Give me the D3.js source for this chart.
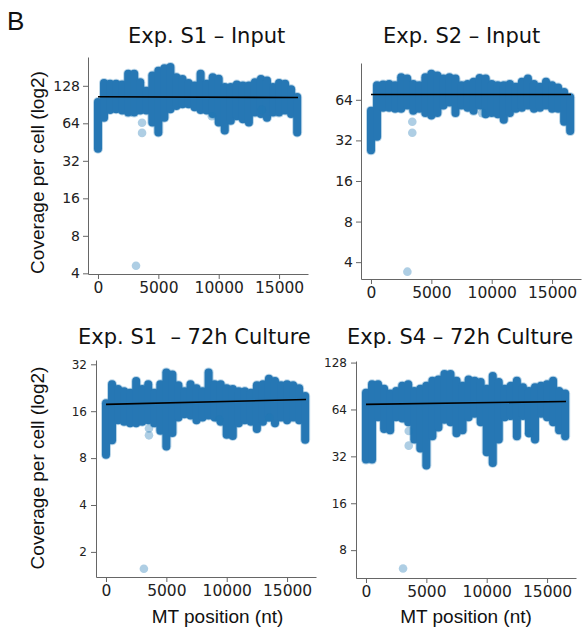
<!DOCTYPE html>
<html>
<head>
<meta charset="utf-8">
<script src="https://cdn.jsdelivr.net/npm/d3@7"></script>
<style>
  body { margin: 0; background: #fff; }
  svg { display: block; }
  .tick text { font-family: "DejaVu Sans", sans-serif; fill: #222; }
  .tick line, .domain { stroke: #666; }
</style>
</head>
<body>
<svg width="582" height="630"></svg>
<script>
// MT positions sampled every 500 nt
var positions = [0, 500, 1000, 1500, 2000, 2500, 3000, 3500, 4000, 4500, 5000, 5500, 6000, 6500, 7000, 7500, 8000,
                 8500, 9000, 9500, 10000, 10500, 11000, 11500, 12000, 12500, 13000, 13500, 14000, 14500, 15000, 15500, 16000, 16500];

// upper / lower edge of the coverage cloud per panel
var s1InputHigh = [95, 135, 133, 133, 131, 160, 160, 137, 117, 155, 169, 177, 181, 150, 145, 135, 129,
                   160, 133, 150, 146, 125, 125, 131, 129, 129, 137, 145, 141, 125, 135, 133, 120, 104];
var s1InputLow  = [40, 71, 82, 83, 81, 78, 78, 81, 81, 65, 54, 71, 83, 88, 91, 91, 86,
                   82, 81, 76, 65, 56, 67, 73, 69, 65, 78, 76, 71, 78, 78, 81, 76, 54];

var s2InputHigh = [53, 82, 83, 84, 82, 94, 92, 84, 82, 94, 100, 97, 92, 94, 92, 82, 84,
                   87, 93, 92, 84, 82, 82, 84, 80, 87, 92, 84, 80, 87, 82, 79, 73, 67];
var s2InputLow  = [27, 34, 56, 56, 55, 55, 58, 53, 55, 51, 49, 51, 58, 61, 51, 58, 56,
                   53, 58, 50, 51, 50, 45.5, 51, 55, 56, 58, 55, 56, 58, 55, 55, 44, 37.5];

var s1CultureHigh = [18, 23.8, 22.2, 21.5, 21, 25, 22.2, 23.8, 21, 23.8, 28.4, 27.5, 23.5, 21.5, 23.8, 22.5, 21.5,
                     28.4, 23.8, 23.8, 22.5, 22.2, 21.5, 21.5, 21, 23.5, 23.8, 25.8, 25, 23.5, 23.8, 23.5, 22.5, 20];
var s1CultureLow  = [8.4, 10.4, 14, 13.7, 13.4, 13.4, 13.7, 14, 13.4, 12, 9.5, 11.6, 14.6, 15.3, 15, 14, 14.6,
                     15, 14.6, 13.7, 11.3, 11.1, 13.4, 14, 13.7, 12.3, 13.7, 14.6, 13.4, 14.6, 14, 14.6, 14, 10.5];

var s4CultureHigh = [82, 93, 93, 87, 81, 84, 91, 93, 84, 87, 91, 98, 99.5, 108, 108, 98, 91,
                     99.5, 98, 96, 87, 105, 96, 87, 91, 98, 89, 84, 89, 91, 93, 98, 84, 81];
var s4CultureLow  = [30.5, 30.5, 57, 48, 47, 57, 56, 53, 41, 36, 28, 43, 49, 55, 53, 45, 47,
                     57, 60, 53, 34, 29, 41, 57, 58, 43, 58, 45, 41, 60, 57, 53, 47, 43];

// isolated (faint) points
var s1InputOutPos = [3650, 3650, 3150, 9430, 13570];
var s1InputOutVal = [64.6, 53.6, 4.6, 73, 82];
var s2InputOutPos = [3420, 3420, 3015, 9210];
var s2InputOutVal = [44, 36.5, 3.4, 51];
var s1CultureOutPos = [3560, 3560, 3140, 9380, 13530];
var s1CultureOutVal = [12.4, 11.2, 1.56, 14.1, 14.5];
var s4CultureOutPos = [3540, 3540, 3070, 13500];
var s4CultureOutVal = [46.6, 37.5, 6.1, 45];

// regression line ends (value at first and last MT position)
var fitPos = [0, 16569];
var s1InputFit = [104.5, 103];
var s2InputFit = [70, 70];
var s1CultureFit = [17.7, 19.0];
var s4CultureFit = [69, 72];

var titles = ["Exp. S1 \u2013 Input", "Exp. S2 \u2013 Input", "Exp. S1  \u2013 72h Culture", "Exp. S4 \u2013 72h Culture"];
var yTicks = [[4, 8, 16, 32, 64, 128], [4, 8, 16, 32, 64], [2, 4, 8, 16, 32], [8, 16, 32, 64, 128]];
var xTicks = [0, 5000, 10000, 15000];

var panels = [
  {hi: s1InputHigh, lo: s1InputLow, oPos: s1InputOutPos, oVal: s1InputOutVal, fit: s1InputFit,
   left: 88, top: 57, bottom: 274, yDom: [3.95, 218], yFont: 14, yPad: 3, titleX: 128, titleY: 43},
  {hi: s2InputHigh, lo: s2InputLow, oPos: s2InputOutPos, oVal: s2InputOutVal, fit: s2InputFit,
   left: 361, top: 63, bottom: 279, yDom: [3.0, 120], yFont: 14, yPad: 3, titleX: 383, titleY: 43},
  {hi: s1CultureHigh, lo: s1CultureLow, oPos: s1CultureOutPos, oVal: s1CultureOutVal, fit: s1CultureFit,
   left: 96, top: 360, bottom: 577, yDom: [1.38, 34.1], yFont: 12, yPad: 4, titleX: 78, titleY: 344},
  {hi: s4CultureHigh, lo: s4CultureLow, oPos: s4CultureOutPos, oVal: s4CultureOutVal, fit: s4CultureFit,
   left: 356, top: 361, bottom: 578, yDom: [5.3, 131], yFont: 12, yPad: 4, titleX: 347, titleY: 344}
];

var svg = d3.select("svg");
var panelWidth = 220;

panels.forEach(function(p, k) {
  var x = d3.scaleLinear()
            .domain([-828, 17397])
            .range([p.left, p.left + panelWidth]);
  var y = d3.scaleLog().base(2)
            .domain(p.yDom)
            .range([p.bottom, p.top]);

  var g = svg.append("g");

  // the cloud of points: one rounded stroke per sampled position
  var cols = positions.map(function(pos, i) { return {pos: pos, hi: p.hi[i], lo: p.lo[i]}; });

  g.selectAll(".halo")
    .data(cols)
    .enter()
    .append("line")
      .attr("x1", d => x(d.pos))
      .attr("x2", d => x(d.pos))
      .attr("y1", d => y(d.hi))
      .attr("y2", d => y(d.lo))
      .attr("stroke", "#1f77b4")
      .attr("stroke-opacity", 0.3)
      .attr("stroke-width", 10)
      .attr("stroke-linecap", "round");

  g.selectAll(".col")
    .data(cols)
    .enter()
    .append("line")
      .attr("x1", d => x(d.pos))
      .attr("x2", d => x(d.pos))
      .attr("y1", d => y(d.hi))
      .attr("y2", d => y(d.lo))
      .attr("stroke", "#2677b4")
      .attr("stroke-width", 8)
      .attr("stroke-linecap", "round");

  g.selectAll(".out")
    .data(p.oPos.map((pos, i) => ({pos: pos, v: p.oVal[i]})))
    .enter()
    .append("circle")
      .attr("cx", d => x(d.pos))
      .attr("cy", d => y(d.v))
      .attr("r", 4.3)
      .attr("fill", "#1f77b4")
      .attr("fill-opacity", 0.36);

  // regression line
  g.append("line")
    .attr("x1", x(fitPos[0]))
    .attr("x2", x(fitPos[1]))
    .attr("y1", y(p.fit[0]))
    .attr("y2", y(p.fit[1]))
    .attr("stroke", "#000")
    .attr("stroke-width", 1.6);

  // axes (left and bottom spines only)
  var yAxis = g.append("g")
    .attr("transform", "translate(" + p.left + ",0)")
    .call(d3.axisLeft(y).tickValues(yTicks[k]).tickFormat(d3.format("d"))
            .tickSize(5).tickSizeOuter(0).tickPadding(p.yPad));
  yAxis.selectAll("text").style("font-size", p.yFont + "px");

  var xAxis = g.append("g")
    .attr("transform", "translate(0," + p.bottom + ")")
    .call(d3.axisBottom(x).tickValues(xTicks).tickFormat(d3.format("d"))
            .tickSize(5).tickSizeOuter(0).tickPadding(3));
  xAxis.selectAll("text").style("font-size", "15.5px");

  g.append("text")
    .attr("x", p.titleX)
    .attr("y", p.titleY)
    .attr("font-family", "DejaVu Sans, sans-serif")
    .attr("font-size", 21)
    .attr("fill", "#111")
    .style("white-space", "pre")
    .text(titles[k]);
});

// shared axis labels
[172.5, 468].forEach(function(cy) {
  svg.append("text")
    .attr("transform", "translate(44," + cy + ") rotate(-90)")
    .attr("text-anchor", "middle")
    .attr("font-family", "Liberation Sans, Arial, sans-serif")
    .attr("font-size", 19)
    .attr("fill", "#111")
    .text("Coverage per cell (log2)");
});

[217.5, 466].forEach(function(cx) {
  svg.append("text")
    .attr("x", cx)
    .attr("y", 623)
    .attr("text-anchor", "middle")
    .attr("font-family", "Liberation Sans, Arial, sans-serif")
    .attr("font-size", 19)
    .attr("fill", "#111")
    .text("MT position (nt)");
});

svg.append("text")
  .attr("x", 7)
  .attr("y", 29.5)
  .attr("font-family", "Liberation Sans, Arial, sans-serif")
  .attr("font-size", 26)
  .attr("fill", "#111")
  .text("B");
</script>
</body>
</html>
